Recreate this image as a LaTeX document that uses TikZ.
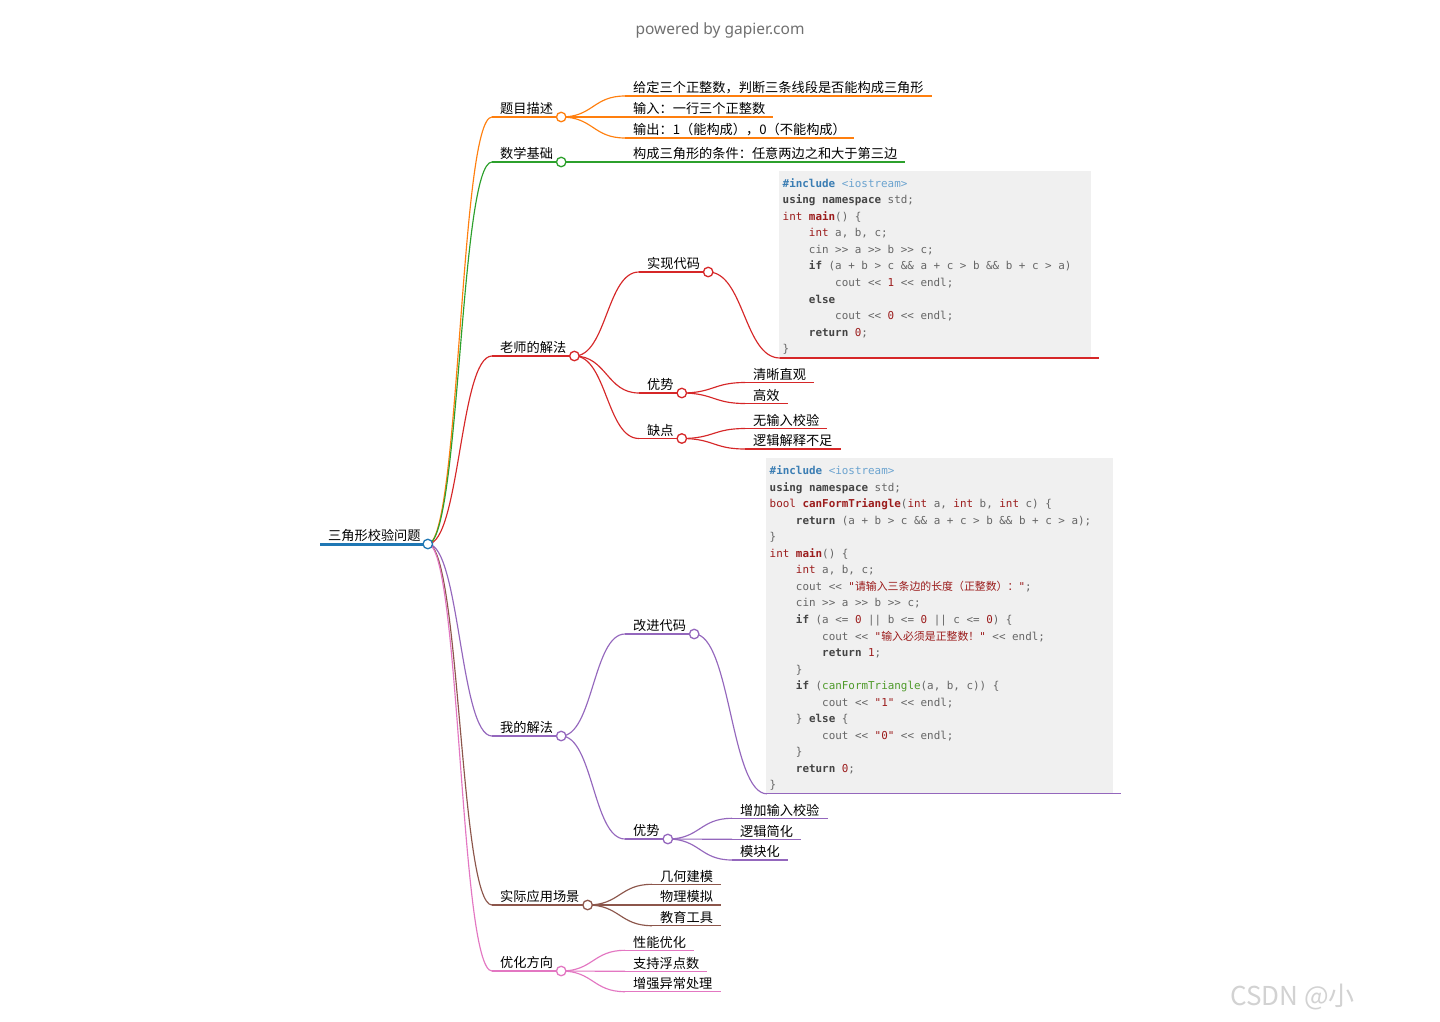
\documentclass[tikz,border=0pt]{standalone}
\usepackage{fontspec}
\setmainfont{Noto Sans CJK SC}
\setmonofont{DejaVu Sans Mono}
\newfontfamily\cjk{Noto Sans CJK SC}
\newfontfamily\titlefont{Noto Sans}
\usetikzlibrary{calc}
\pgfdeclarelayer{bg}
\pgfdeclarelayer{edges}
\pgfsetlayers{bg,edges,main}

\definecolor{cRoot}{HTML}{1F77B4}
\definecolor{cOrange}{HTML}{FF7F0E}
\definecolor{cGreen}{HTML}{2CA02C}
\definecolor{cRed}{HTML}{D62728}
\definecolor{cPurple}{HTML}{9467BD}
\definecolor{cBrown}{HTML}{8C564B}
\definecolor{cPink}{HTML}{E377C2}
\definecolor{codebg}{HTML}{F0F0F0}
\definecolor{codefg}{HTML}{666666}
\definecolor{codekw}{HTML}{444444}
\definecolor{codety}{HTML}{9B1C1C}
\definecolor{codeinc}{HTML}{3A7DB3}
\definecolor{codelib}{HTML}{6BA3CF}
\definecolor{codecall}{HTML}{4E9A2A}
\definecolor{titlegray}{HTML}{707070}
\definecolor{wmgray}{HTML}{D2D2D2}

\newcommand\kwd[1]{\textbf{\textcolor{codekw}{#1}}}
\newcommand\typ[1]{\textcolor{codety}{#1}}
\newcommand\fnm[1]{\textbf{\textcolor{codety}{#1}}}
\newcommand\cnum[1]{\textcolor{codety}{#1}}
\newcommand\cstr[1]{\textcolor{codety}{#1}}
\newcommand\cinc[1]{\textbf{\textcolor{codeinc}{#1}}}
\newcommand\clib[1]{\textcolor{codelib}{#1}}
\newcommand\ccall[1]{\textcolor{codecall}{#1}}
\newcommand\ind{\hphantom{0000}}

\tikzset{
  mmtext/.style={inner sep=0pt, font=\fontsize{13.2}{15}\selectfont, text=black},
  mmedge/.style={line width=1.15pt},
  mmcirc/.style={circle, minimum size=9.5pt, inner sep=0pt, line width=1.3pt, fill=white},
  codetext/.style={inner sep=0pt, font=\ttfamily\fontsize{10.9}{16.55}\selectfont, text=codefg},
}

% name, x, y, colour, text
\newcommand\mmline[5]{%
  \coordinate (#1-s) at (#2,#3);
  \node[mmtext, anchor=base west] (#1) at ({#2+8},{#3-3.2}) {#5};
  \draw[mmedge, draw=#4] (#1-s) -- ($(#1-s -| #1.base east)+(8,0)$) coordinate (#1-e);
}
\newcommand\mmnode[5]{%
  \mmline{#1}{#2}{#3}{#4}{#5}
  \node[mmcirc, draw=#4] (#1-c) at (#1-e) {};
}
% name, x, y(bottom line), width, height, colour, content
\newcommand\mmcode[7]{%
  \coordinate (#1-s) at (#2,#3);
  \node[fill=codebg, inner sep=0pt, minimum width=#4pt, minimum height=#5pt, anchor=south west] (#1-box) at ({#2-1},{#3-0.6}) {};
  \coordinate (#1-e) at ({#2-1+#4+8},#3);
  \begin{pgfonlayer}{edges}
    \draw[mmedge, draw=#6] (#1-s) -- (#1-e);
  \end{pgfonlayer}
  \node[codetext, anchor=base west] (#1) at ({#2+2.5},{#3-#5+15.7}) {#7};
}
% colour, from, to
\newcommand\mmlink[3]{%
  \begin{pgfonlayer}{edges}
    \draw[mmedge, draw=#1] let \p1=(#2), \p2=(#3) in
      (\p1) .. controls ({(\x1+\x2)/2},\y1) and ({(\x1+\x2)/2},\y2) .. (\p2);
  \end{pgfonlayer}
}

\begin{document}
\begin{tikzpicture}[x=1pt, y=-1pt]
\useasboundingbox (0,0) rectangle (1440,1021);
\begin{pgfonlayer}{bg}
\fill[white] (0,0) rectangle (1440,1021);
\end{pgfonlayer}

\node[font=\titlefont\fontsize{15.5}{18}\selectfont, text=titlegray, anchor=base, inner sep=0pt] (title) at (720,34) {powered by gapier.com};

% root
\coordinate (root-s) at (320,544);
\node[mmtext, anchor=base west] (root) at (328,540.8) {三角形校验问题};
\draw[line width=3pt, draw=cRoot] (root-s) -- ($(root-s -| root.base east)+(7,0)$) coordinate (root-e);
\node[mmcirc, draw=cRoot] (root-c) at (root-e) {};

% level 1
\mmnode{desc}{492}{117}{cOrange}{题目描述}
\mmnode{math}{492}{162}{cGreen}{数学基础}
\mmnode{teach}{492}{356}{cRed}{老师的解法}
\mmnode{mine}{492}{736}{cPurple}{我的解法}
\mmnode{app}{492}{905}{cBrown}{实际应用场景}
\mmnode{opt}{492}{971}{cPink}{优化方向}

% 题目描述
\mmline{d1}{625}{96}{cOrange}{给定三个正整数，判断三条线段是否能构成三角形}
\mmline{d2}{625}{117}{cOrange}{输入：一行三个正整数}
\mmline{d3}{625}{138}{cOrange}{输出：1（能构成），0（不能构成）}

% 数学基础
\mmline{m1}{625}{162}{cGreen}{构成三角形的条件：任意两边之和大于第三边}

% 老师的解法
\mmnode{tcode}{639}{272}{cRed}{实现代码}
\mmnode{tadv}{639}{393}{cRed}{优势}
\mmnode{tdis}{639}{438.5}{cRed}{缺点}
\mmcode{code1}{780}{358}{312}{186.5}{cRed}{%
\begin{tabular}[t]{@{}l@{}}
\cinc{\#include} \clib{<iostream>}\\
\kwd{using} \kwd{namespace} std;\\
\typ{int} \fnm{main}() \{\\
\ind\typ{int} a, b, c;\\
\ind cin >> a >> b >> c;\\
\ind\kwd{if} (a + b > c \&\& a + c > b \&\& b + c > a)\\
\ind\ind cout << \cnum{1} << endl;\\
\ind\kwd{else}\\
\ind\ind cout << \cnum{0} << endl;\\
\ind\kwd{return} \cnum{0};\\
\}
\end{tabular}}
\mmline{ta1}{745}{382.5}{cRed}{清晰直观}
\mmline{ta2}{745}{403.5}{cRed}{高效}
\mmline{td1}{745}{428.5}{cRed}{无输入校验}
\mmline{td2}{745}{449}{cRed}{逻辑解释不足}

% 我的解法
\mmnode{mcode}{625}{634}{cPurple}{改进代码}
\mmnode{madv}{625}{839}{cPurple}{优势}
\mmcode{code2}{767}{793.8}{346.5}{335}{cPurple}{%
\begin{tabular}[t]{@{}l@{}}
\cinc{\#include} \clib{<iostream>}\\
\kwd{using} \kwd{namespace} std;\\
\typ{bool} \fnm{canFormTriangle}(\typ{int} a, \typ{int} b, \typ{int} c) \{\\
\ind\kwd{return} (a + b > c \&\& a + c > b \&\& b + c > a);\\
\}\\
\typ{int} \fnm{main}() \{\\
\ind\typ{int} a, b, c;\\
\ind cout << \cstr{"{\cjk 请输入三条边的长度（正整数）：}"};\\
\ind cin >> a >> b >> c;\\
\ind\kwd{if} (a <= \cnum{0} || b <= \cnum{0} || c <= \cnum{0}) \{\\
\ind\ind cout << \cstr{"{\cjk 输入必须是正整数！}"} << endl;\\
\ind\ind\kwd{return} \cnum{1};\\
\ind\}\\
\ind\kwd{if} (\ccall{canFormTriangle}(a, b, c)) \{\\
\ind\ind cout << \cstr{"1"} << endl;\\
\ind\} \kwd{else} \{\\
\ind\ind cout << \cstr{"0"} << endl;\\
\ind\}\\
\ind\kwd{return} \cnum{0};\\
\}
\end{tabular}}
\mmline{ma1}{732}{818.3}{cPurple}{增加输入校验}
\mmline{ma2}{732}{839.3}{cPurple}{逻辑简化}
\mmline{ma3}{732}{860}{cPurple}{模块化}

% 实际应用场景
\mmline{ap1}{652}{884.3}{cBrown}{几何建模}
\mmline{ap2}{652}{905}{cBrown}{物理模拟}
\mmline{ap3}{652}{925.7}{cBrown}{教育工具}

% 优化方向
\mmline{op1}{625}{950.3}{cPink}{性能优化}
\mmline{op2}{625}{971.3}{cPink}{支持浮点数}
\mmline{op3}{625}{991.7}{cPink}{增强异常处理}

% links
\mmlink{cOrange}{root-c.center}{desc-s}
\mmlink{cGreen}{root-c.center}{math-s}
\mmlink{cRed}{root-c.center}{teach-s}
\mmlink{cPurple}{root-c.center}{mine-s}
\mmlink{cBrown}{root-c.center}{app-s}
\mmlink{cPink}{root-c.center}{opt-s}

\mmlink{cOrange}{desc-c.center}{d1-s}
\mmlink{cOrange}{desc-c.center}{d2-s}
\mmlink{cOrange}{desc-c.center}{d3-s}
\mmlink{cGreen}{math-c.center}{m1-s}

\mmlink{cRed}{teach-c.center}{tcode-s}
\mmlink{cRed}{teach-c.center}{tadv-s}
\mmlink{cRed}{teach-c.center}{tdis-s}
\mmlink{cRed}{tcode-c.center}{code1-s}
\mmlink{cRed}{tadv-c.center}{ta1-s}
\mmlink{cRed}{tadv-c.center}{ta2-s}
\mmlink{cRed}{tdis-c.center}{td1-s}
\mmlink{cRed}{tdis-c.center}{td2-s}

\mmlink{cPurple}{mine-c.center}{mcode-s}
\mmlink{cPurple}{mine-c.center}{madv-s}
\mmlink{cPurple}{mcode-c.center}{code2-s}
\mmlink{cPurple}{madv-c.center}{ma1-s}
\mmlink{cPurple}{madv-c.center}{ma2-s}
\mmlink{cPurple}{madv-c.center}{ma3-s}

\mmlink{cBrown}{app-c.center}{ap1-s}
\mmlink{cBrown}{app-c.center}{ap2-s}
\mmlink{cBrown}{app-c.center}{ap3-s}

\mmlink{cPink}{opt-c.center}{op1-s}
\mmlink{cPink}{opt-c.center}{op2-s}
\mmlink{cPink}{opt-c.center}{op3-s}

\node[font=\cjk\fontsize{26}{30}\selectfont, text=wmgray, anchor=base west, inner sep=0pt] (wm) at (1230,1005) {CSDN @小};
\end{tikzpicture}
\end{document}
